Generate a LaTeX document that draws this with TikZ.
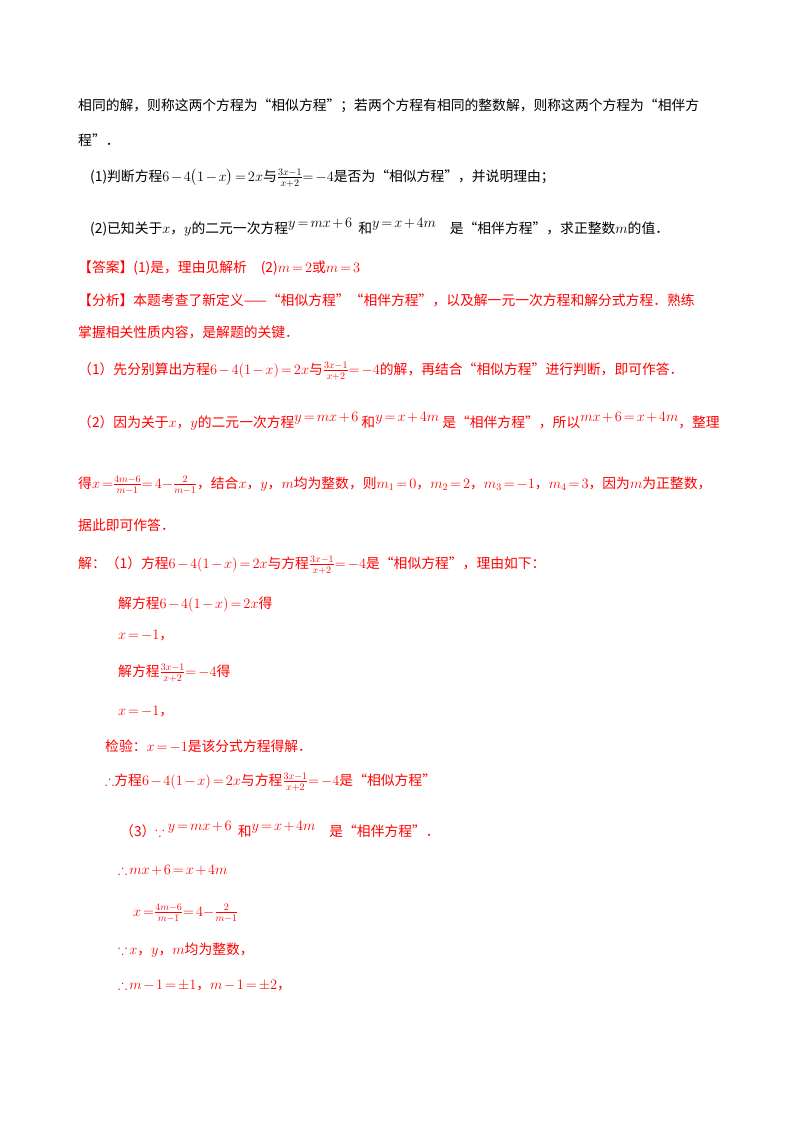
\documentclass[tikz,border=0pt]{standalone}
\usepackage{amsmath,amssymb}
\usepackage{fontspec}
\setmainfont{Noto Sans CJK SC}
\newcommand{\fr}[2]{{\fontsize{14}{15}\selectfont$\frac{#1}{#2}$}}
\begin{document}
\thickmuskip=2.5mu plus 2mu \medmuskip=2mu plus 1mu
\begin{tikzpicture}[x=1pt,y=-1pt,
  every node/.style={anchor=west,inner sep=0pt,font=\fontsize{13.8}{16}\selectfont},
  rd/.style={text=red}]
\useasboundingbox[fill=white] (0,0) rectangle (800,1132);
\node (l1) at (78,106) {相同的解，则称这两个方程为“相似方程”；若两个方程有相同的整数解，则称这两个方程为“相伴方};
\node (l2) at (78,140) {程”．};
\node (l3) at (90,178) {(1)判断方程$6-4\big(1-x\big)=2x$与\fr{3x-1}{x+2}$=-4$是否为“相似方程”，并说明理由；};
\node (l4) at (90,227) {(2)已知关于$x$，$y$的二元一次方程\raisebox{6pt}{$y=mx+6$}\ \ 和\raisebox{6pt}{$y=x+4m$}\quad 是“相伴方程”，求正整数$m$的值．};
\node[rd] (l5) at (78,268) {【答案】(1)是，理由见解析\quad (2)$m=2$或$m=3$};
\node[rd] (l6) at (78,300) {【分析】本题考查了新定义——“相似方程”“相伴方程”，以及解一元一次方程和解分式方程．熟练};
\node[rd] (l7) at (78,332) {掌握相关性质内容，是解题的关键．};
\node[rd] (l8) at (78,371) {（1）先分别算出方程$6-4(1-x)=2x$与\fr{3x-1}{x+2}$=-4$的解，再结合“相似方程”进行判断，即可作答．};
\node[rd] (l9) at (78,421) {（2）因为关于$x$，$y$的二元一次方程\raisebox{6pt}{$y=mx+6$}\ 和\raisebox{6pt}{$y=x+4m$}\ 是“相伴方程”，所以\raisebox{6pt}{$mx+6=x+4m$}，整理};
\node[rd] (l10) at (78,485) {得$x=$\fr{4m-6}{m-1}$=4-$\fr{2}{m-1}，结合$x$，$y$，$m$均为整数，则$m_1=0$，$m_2=2$，$m_3=-1$，$m_4=3$，因为$m$为正整数，};
\node[rd] (l11) at (78,525) {据此即可作答．};
\node[rd] (l12) at (78,565) {解：（1）方程$6-4(1-x)=2x$与方程\fr{3x-1}{x+2}$=-4$是“相似方程”，理由如下：};
\node[rd] (l13) at (118,604) {解方程$6-4(1-x)=2x$得};
\node[rd] (l14) at (118,636) {$x=-1$，};
\node[rd] (l15) at (118,673) {解方程\fr{3x-1}{x+2}$=-4$得};
\node[rd] (l16) at (118,712) {$x=-1$，};
\node[rd] (l17) at (105,746) {检验：$x=-1$是该分式方程得解．};
\node[rd] (l18) at (105,782) {$\therefore$方程$6-4(1-x)=2x$与方程\fr{3x-1}{x+2}$=-4$是“相似方程”};
\node[rd] (l19) at (120,830) {（3）$\because$\ \raisebox{6pt}{$y=mx+6$}\ \ 和\raisebox{6pt}{$y=x+4m$}\quad 是“相伴方程”．};
\node[rd] (l20) at (118,870) {$\therefore mx+6=x+4m$};
\node[rd] (l21) at (133,913) {$x=$\fr{4m-6}{m-1}$=4-$\fr{2}{m-1}};
\node[rd] (l22) at (118,950) {$\because x$，$y$，$m$均为整数，};
\node[rd] (l23) at (118,985) {$\therefore m-1=\pm1$，$m-1=\pm2$，};
\end{tikzpicture}
\end{document}
